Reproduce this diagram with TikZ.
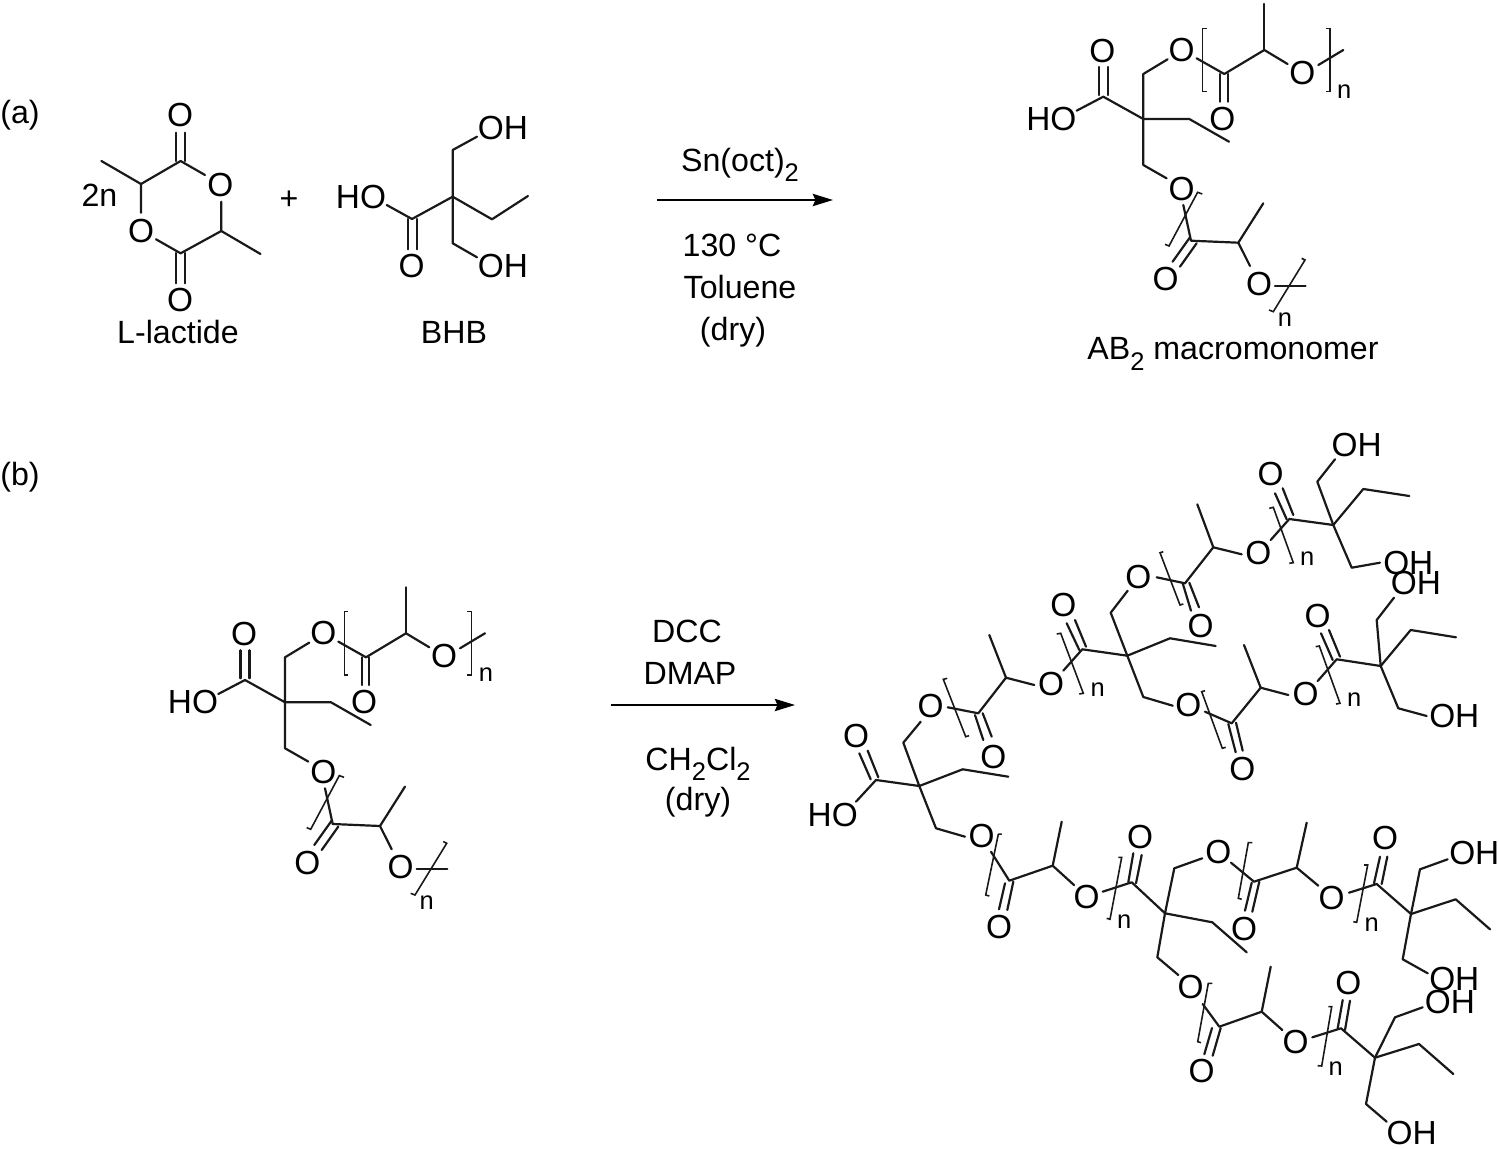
\documentclass[tikz,border=0pt]{standalone}
\usepackage{fontspec}
\setmainfont{Liberation Sans}
\usepackage{tikz}
\usetikzlibrary{arrows.meta}

\begin{document}
\begin{tikzpicture}[x=.02cm,y=-.02cm,
  bond/.style={line width=1.25pt,line join=round,line cap=round,black!90},
  brack/.style={line width=.9pt,line join=miter,black!90},
  rxn/.style={line width=1pt,black,-{Stealth[length=11.5pt,width=7pt,inset=1.5pt]}},
  atom/.style={inner sep=0pt,outer sep=0pt,font=\fontsize{19}{21}\selectfont},
  lbl/.style={inner sep=0pt,outer sep=0pt,font=\fontsize{18.3}{20}\selectfont},
  rep/.style={inner sep=0pt,outer sep=0pt,font=\fontsize{14.5}{16}\selectfont}]

  \useasboundingbox (0,0) rectangle (1499,1149);

  % subscript two in the label font
  \def\lowtwo{\raisebox{-.32em}{\fontsize{14.5}{16}\selectfont 2}}

  % AB2 unit, (0,0) is the quaternary carbon
  \def\macromono#1#2{
    \begin{scope}[shift={#2}]
      % core
      \draw[bond] (-66.7,-8.3) -- (-40,-22.3) -- (0,0) -- (0,-45) -- (24.3,-59.7);
      \draw[bond] (-44.5,-24) -- (-44.5,-52) (-35.5,-24) -- (-35.5,-52);
      \draw[bond] (0,0) -- (46,0) -- (85.7,22.7);
      \draw[bond] (0,0) -- (0,46) -- (23.3,59.3);
      \node[atom] (oh#1) at (-92,0) {HO};
      \node[atom] (oa#1) at (-41,-68.3) {O};
      \node[atom] (ob#1) at (38.3,-69) {O};
      \node[atom] (oc#1) at (38.3,70) {O};

      % upper arm
      \draw[bond] (53.3,-60.7) -- (81,-45) -- (121,-69) -- (144.3,-55);
      \draw[bond] (121,-69) -- (121,-115);
      \draw[bond] (175,-54) -- (200,-69);
      \draw[bond] (76.7,-45) -- (76.7,-17.3) (84.3,-45) -- (84.3,-17.3);
      \draw[brack] (63.3,-90.7) -- (59.3,-90.7) -- (59.3,-27.3) -- (63.3,-27.3);
      \draw[brack] (182.3,-90.7) -- (186.7,-90.7) -- (186.7,-27.3) -- (182.3,-27.3);
      \node[atom] (od#1) at (79,0) {O};
      \node[atom] (oe#1) at (159,-46.3) {O};
      \node[rep] (na#1) at (201,-27.3) {n};

      % lower arm
      \draw[bond] (40,86) -- (47.7,121.7) -- (95,123.7) -- (106.7,147);
      \draw[bond] (95,123.7) -- (120,84.3);
      \draw[bond] (131.7,166.7) -- (162.3,166.7);
      \draw[bond] (46.7,118.3) -- (29.3,142.7) (53.3,124.3) -- (36.7,147.7);
      \draw[brack] (59,75) -- (54.3,73.3) -- (25.7,127) -- (21.7,125.3);
      \draw[brack] (158.3,139.3) -- (161.7,141) -- (130,192.7) -- (125.7,191);
      \node[atom] (of#1) at (22.3,160.3) {O};
      \node[atom] (og#1) at (115.7,165) {O};
      \node[rep] (nb#1) at (141.7,200.3) {n};
    \end{scope}
  }

  % (a)
  \node[lbl] (parta) at (20,115.3) {(a)};
  \node[lbl] (partb) at (20,477) {(b)};

  % lactide
  \draw[bond] (205,175) -- (180.6,161) -- (141,184) -- (141,212.7);
  \draw[bond] (141,184) -- (101.4,161);
  \draw[bond] (221.3,201.7) -- (221.3,231) -- (180.6,253.3) -- (156,239.3);
  \draw[bond] (221.3,231) -- (260.5,254);
  \draw[bond] (176.3,132.7) -- (176.3,161) (185,132.7) -- (185,161);
  \draw[bond] (176.3,253) -- (176.3,283.3) (185,253) -- (185,283.3);
  \node[atom] (lo1) at (180,115) {O};
  \node[atom] (lo2) at (220.3,185) {O};
  \node[atom] (lo3) at (141,230.7) {O};
  \node[atom] (lo4) at (180,300) {O};
  \node[lbl] (twon) at (99.5,195) {2n};
  \node[lbl] (lact) at (178,332) {L-lactide};
  \node[lbl] (plus) at (289,200) {+};

  % BHB
  \draw[bond] (386.7,205) -- (412,219) -- (452.7,196.7) -- (452.7,150) -- (477,136.7);
  \draw[bond] (408,219) -- (408,249.3) (417,219) -- (417,249.3);
  \draw[bond] (452.7,196.7) -- (492,219.3) -- (528,196);
  \draw[bond] (452.7,196.7) -- (452.7,243.3) -- (477,257.3);
  \node[atom] (bho) at (361,196.7) {HO};
  \node[atom] (bo) at (411.5,265.7) {O};
  \node[atom] (boh1) at (503,127.7) {OH};
  \node[atom] (boh2) at (503,266) {OH};
  \node[lbl] (bhb) at (454,332) {BHB};

  % arrow a
  \coordinate (aa) at (657,200);
  \coordinate (ab) at (833,200);
  \draw[rxn] (aa) -- (ab);
  \node[lbl] (sn) at (740,164.5) {Sn(oct)\lowtwo};
  \node[lbl] (temp) at (732,245.5) {130 °C};
  \node[lbl] (tol) at (740,287.5) {Toluene};
  \node[lbl] (dry) at (733,332) {(dry)};

  \macromono{p}{(1143.3,119)}
  \node[lbl] (abtwo) at (1233,354) {AB\lowtwo{} macromonomer};

  % (b)
  \macromono{q}{(285,702.3)}

  % arrow b
  \coordinate (ba) at (611,705);
  \coordinate (bb) at (795,705);
  \draw[rxn] (ba) -- (bb);
  \node[lbl] (dcc) at (687,631) {DCC};
  \node[lbl] (dmap) at (690,673) {DMAP};
  \node[lbl] (chcl) at (698,764) {CH\lowtwo Cl\lowtwo};
  \node[lbl] (dryb) at (698,802) {(dry)};

  % focal unit
  \draw[bond] (856,801.7) -- (876,780) -- (919.3,786) -- (903.3,742.7) -- (920.7,721.7);
  \draw[bond] (859.3,753.3) -- (870.7,779.3) (867.7,750.7) -- (878.3,777.3);
  \draw[bond] (919.3,786) -- (962.7,769.3) -- (1008.3,776.7);
  \draw[bond] (919.3,786) -- (936,828.3) -- (965,836.7);
  \node[atom] (fo) at (856,735.7) {O};
  \node[atom] (fh) at (832.7,815) {HO};
  \node[atom] (f1) at (930.7,706) {O};
  \node[atom] (f2) at (981.7,836) {O};

  % arm 1
  \draw[bond] (947.7,707.3) -- (978.3,713.3) -- (1006,677.7) -- (1034.3,685);
  \draw[bond] (1006,677.7) -- (989.3,635);
  \draw[bond] (975,715) -- (983.3,740) (982.7,713.3) -- (991.7,736.7);
  \draw[brack] (947.3,678.3) -- (943.3,679.3) -- (965.7,736.7) -- (969,735.7);
  \draw[brack] (1056.7,634) -- (1060.7,633.3) -- (1083.3,693.3) -- (1079.3,694);
  \draw[bond] (1063.3,670.7) -- (1082.3,649.3) -- (1127.3,655.7);
  \draw[bond] (1066.7,623.3) -- (1079.3,650) (1075,620) -- (1086,646.7);
  \node[atom] (a1o) at (993.3,756.7) {O};
  \node[atom] (a1e) at (1051,684.3) {O};
  \node[atom] (a1c) at (1063.3,605) {O};
  \node[rep] (a1n) at (1097.7,690) {n};

  % branch 1
  \draw[bond] (1127.3,655.7) -- (1110.7,612.7) -- (1127.7,590.7);
  \draw[bond] (1127.3,655.7) -- (1170,638.3) -- (1215.7,646);
  \draw[bond] (1127.3,655.7) -- (1143.3,697) -- (1172.7,705.7);
  \node[atom] (b1u) at (1138.3,576.7) {O};
  \node[atom] (b1d) at (1188.3,705) {O};

  % arm 2, top
  \draw[bond] (1156.7,577.3) -- (1185,583.3) -- (1213.3,547.3) -- (1241.7,554.3);
  \draw[bond] (1213.3,547.3) -- (1197.3,504.3);
  \draw[bond] (1182.7,583.3) -- (1191,610.7) (1189.3,582.7) -- (1199,607.3);
  \draw[brack] (1163.3,551.7) -- (1160,552.7) -- (1180,605) -- (1183.3,604);
  \draw[brack] (1269.3,508.3) -- (1273.3,507.3) -- (1293.3,562.7) -- (1289.3,563.3);
  \draw[bond] (1270.7,540) -- (1289.3,519) -- (1333.3,525);
  \draw[bond] (1275,493.3) -- (1286.7,519.3) (1282.7,488.3) -- (1293.3,515);
  \node[atom] (a2o) at (1200.7,626) {O};
  \node[atom] (a2e) at (1258.3,553.3) {O};
  \node[atom] (a2c) at (1270.7,474.3) {O};
  \node[rep] (a2n) at (1307.3,558.3) {n};
  \draw[bond] (1333.3,525) -- (1317.3,481.7) -- (1335,459.3);
  \draw[bond] (1333.3,525) -- (1363.3,489) -- (1409.3,496);
  \draw[bond] (1333.3,525) -- (1351.7,567.7) -- (1380,562.7);
  \node[atom] (a2u) at (1356.7,445) {OH};
  \node[atom] (a2d) at (1408.3,562.7) {OH};

  % arm 3
  \draw[bond] (1205,711.7) -- (1231.7,723.3) -- (1260.7,687.7) -- (1288.3,695);
  \draw[bond] (1260.7,687.7) -- (1244,645);
  \draw[bond] (1228.3,724) -- (1235.7,752.3) (1236,722.7) -- (1242.7,750.7);
  \draw[brack] (1205,690.7) -- (1201.7,691.7) -- (1222.3,748.3) -- (1225.7,747.3);
  \draw[brack] (1315.7,646.7) -- (1319.3,646) -- (1340,703.3) -- (1336,704);
  \draw[bond] (1317.7,681) -- (1336.7,659.3) -- (1380.7,666);
  \draw[bond] (1321,633.3) -- (1332.7,660) (1329,630) -- (1340,656.7);
  \node[atom] (a3o) at (1242.3,769.3) {O};
  \node[atom] (a3e) at (1305.7,694.3) {O};
  \node[atom] (a3c) at (1317.7,616) {O};
  \node[rep] (a3n) at (1354.3,699.3) {n};
  \draw[bond] (1380.7,666) -- (1376.7,620) -- (1394,597.7);
  \draw[bond] (1380.7,666) -- (1410.7,630) -- (1456,637.3);
  \draw[bond] (1380.7,666) -- (1398.3,708.3) -- (1426.7,716);
  \node[atom] (a3u) at (1416,583.3) {OH};
  \node[atom] (a3d) at (1454.3,715.7) {OH};

  % arm 4
  \draw[bond] (991,851.7) -- (1009.3,880.7) -- (1052.7,865.7) -- (1074,885);
  \draw[bond] (1052.7,865.7) -- (1061.7,821.7);
  \draw[bond] (1005,883.3) -- (999,909.3) (1013.3,881.7) -- (1007.3,910);
  \draw[brack] (1001.7,834) -- (998.3,834.3) -- (985.7,895) -- (989.3,896);
  \draw[brack] (1118.3,857.3) -- (1121.7,857.3) -- (1110,919.3) -- (1106.7,918.3);
  \draw[bond] (1102.7,891.7) -- (1131.7,882.3) -- (1165,913.3);
  \draw[bond] (1133.3,853.3) -- (1128.3,882.3) (1141.7,855) -- (1136,883.3);
  \node[atom] (a4o) at (999,926.7) {O};
  \node[atom] (a4e) at (1086.7,896.7) {O};
  \node[atom] (a4c) at (1140,836.7) {O};
  \node[rep] (a4n) at (1124.3,921.7) {n};

  % branch 2
  \draw[bond] (1165,913.3) -- (1174.3,868.3) -- (1202.3,858.3);
  \draw[bond] (1165,913.3) -- (1212.3,922.3) -- (1246.7,952.3);
  \draw[bond] (1165,913.3) -- (1157.3,957.3) -- (1178.3,975);
  \node[atom] (b2u) at (1218.3,851.7) {O};
  \node[atom] (b2d) at (1190.7,987.3) {O};

  % arm 5
  \draw[bond] (1231,862.7) -- (1254,881.7) -- (1296.7,867.7) -- (1318.3,885.7);
  \draw[bond] (1296.7,867.7) -- (1306.7,822.7);
  \draw[bond] (1251.7,882.7) -- (1245,910.7) (1259.3,881.7) -- (1252.3,911.7);
  \draw[brack] (1252.3,842.7) -- (1248.3,842.7) -- (1238.3,898.3) -- (1241.7,899.3);
  \draw[brack] (1364,865) -- (1367.7,865) -- (1356.7,922.3) -- (1353.3,921.7);
  \draw[bond] (1349,892.7) -- (1376.7,884) -- (1411,914);
  \draw[bond] (1380,856.7) -- (1374,883.3) (1387.3,856.7) -- (1381.7,884);
  \node[atom] (a5o) at (1244,929) {O};
  \node[atom] (a5e) at (1331.7,897.7) {O};
  \node[atom] (a5c) at (1385,837.7) {O};
  \node[rep] (a5n) at (1371.7,925) {n};
  \draw[bond] (1411,914) -- (1420,869.3) -- (1447.7,859.3);
  \draw[bond] (1411,914) -- (1455.7,899.3) -- (1490,929.3);
  \draw[bond] (1411,914) -- (1402.7,959.3) -- (1427.7,973.3);
  \node[atom] (a5u) at (1474.3,853.3) {OH};
  \node[atom] (a5d) at (1454.3,979.3) {OH};

  % arm 6
  \draw[bond] (1202.7,1004) -- (1219.3,1026.7) -- (1261.7,1011.7) -- (1282.3,1030);
  \draw[bond] (1261.7,1011.7) -- (1270.7,966.7);
  \draw[bond] (1212,1028) -- (1204.3,1054.3) (1220.7,1028) -- (1212.7,1055.7);
  \draw[brack] (1212.3,983.3) -- (1208.3,983.3) -- (1197.7,1041.7) -- (1201,1042.7);
  \draw[brack] (1328.3,1006.7) -- (1331.7,1006.7) -- (1321.7,1066) -- (1317.7,1065.7);
  \draw[bond] (1312.3,1037.3) -- (1341,1028.3) -- (1375,1057.7);
  \draw[bond] (1342.7,1000) -- (1337.7,1028.3) (1350,1000.7) -- (1345,1030);
  \node[atom] (a6o) at (1201.7,1070.7) {O};
  \node[atom] (a6e) at (1295.7,1042.3) {O};
  \node[atom] (a6c) at (1348.3,982.7) {O};
  \node[rep] (a6n) at (1335.7,1068.3) {n};
  \draw[bond] (1375,1057.7) -- (1395,1017.3) -- (1422.7,1007.3);
  \draw[bond] (1375,1057.7) -- (1419,1044) -- (1453.3,1074);
  \draw[bond] (1375,1057.7) -- (1366,1104) -- (1386.7,1121.7);
  \node[atom] (a6u) at (1450,1001.7) {OH};
  \node[atom] (a6d) at (1411.7,1133.5) {OH};

\end{tikzpicture}
\end{document}
